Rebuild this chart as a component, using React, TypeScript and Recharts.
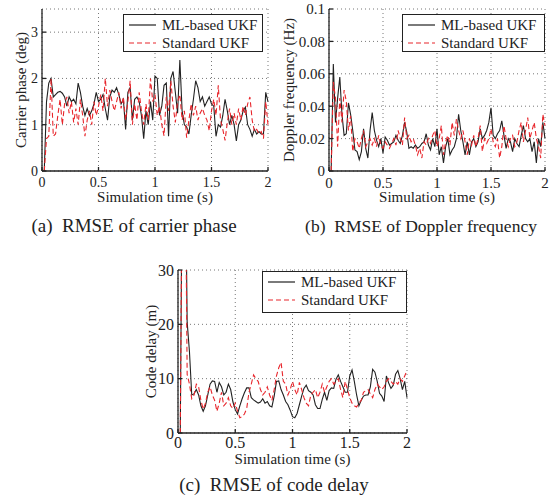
import React from "react";
import { LineChart, Line, XAxis, YAxis, CartesianGrid, Legend, Label } from "recharts";

const FONT = '"Liberation Serif", "Times New Roman", serif';
const INK = "#222";
const RED = "#e8262c";

const seriesNames = ["ML-based UKF", "Standard UKF"];
const xTicks = [0, 0.5, 1, 1.5, 2];

// (a) carrier phase, deg
const phaseTicks = [0, 1, 2, 3];
const phaseML = [
  0, 1.5, 1.9, 2.0, 1.6, 1.65, 1.7, 1.72, 1.68, 1.6,
  1.4, 1.6, 1.5, 1.55, 1.45, 1.9, 1.7, 1.4, 1.2, 1.35,
  1.2, 1.3, 1.45, 1.7, 1.5, 1.55, 1.65, 1.35, 1.1, 1.6,
  1.75, 1.7, 1.8, 1.65, 1.45, 1.55, 0.9, 1.7, 1.8, 1.1,
  1.55, 1.6, 1.5, 1.2, 0.7, 1.3, 1.0, 1.5, 1.1, 2.05,
  2.0, 1.2, 1.4, 1.85, 1.9, 0.75, 2.0, 2.15, 1.7, 1.25,
  2.4, 1.3, 1.0, 0.95, 0.8, 1.2, 1.55, 1.95, 1.8, 1.5,
  1.6, 1.4, 1.5, 1.6, 1.45, 1.4, 0.75, 1.0, 0.95, 1.2,
  1.55, 1.3, 1.0, 1.2, 1.0, 0.65, 1.0, 1.1, 1.3, 1.38,
  1.0, 0.9, 0.75, 0.9, 0.8, 0.85, 0.8, 0.8, 1.7, 1.5,
];
const phaseStd = [
  0, 0.7, 0.75, 2.0, 0.75, 0.8, 1.2, 1.55, 1.0, 1.45,
  1.6, 1.25, 1.5, 1.05, 1.35, 1.0, 1.55, 1.2, 0.75, 1.1,
  1.3, 1.0, 1.5, 1.2, 1.4, 1.65, 1.3, 2.0, 1.4, 1.75,
  1.5, 1.3, 1.5, 1.7, 1.35, 1.6, 1.1, 1.5, 1.95, 1.0,
  1.45, 1.1, 1.7, 1.3, 1.0, 1.45, 1.1, 2.0, 1.5, 1.65,
  1.2, 1.4, 1.0, 0.76, 1.6, 1.3, 1.95, 1.4, 1.05, 1.5,
  1.65, 1.1, 1.3, 0.72, 1.1, 1.45, 1.2, 1.4, 1.1, 1.25,
  1.35, 1.2, 1.1, 0.87, 1.3, 1.55, 1.2, 1.85, 1.1, 0.9,
  0.66, 1.05, 1.35, 1.0, 1.25, 1.0, 1.35, 1.1, 1.4, 1.2,
  1.45, 1.6, 1.1, 0.85, 0.9, 0.8, 0.85, 0.7, 1.5, 1.0,
];

// (b) Doppler frequency, Hz
const dopplerTicks = [0, 0.02, 0.04, 0.06, 0.08, 0.1];
const dopplerML = [
  0, 0.066, 0.03, 0.045, 0.058, 0.035, 0.022, 0.023, 0.042, 0.035,
  0.025, 0.013, 0.012, 0.007, 0.012, 0.026, 0.014, 0.008, 0.025, 0.036,
  0.025, 0.019, 0.015, 0.02, 0.011, 0.021, 0.019, 0.016, 0.017, 0.018,
  0.022, 0.019, 0.017, 0.022, 0.03, 0.024, 0.014, 0.015, 0.014, 0.016,
  0.014, 0.015, 0.017, 0.018, 0.023, 0.016, 0.013, 0.02, 0.015, 0.026,
  0.01, 0.015, 0.005, 0.015, 0.02, 0.01, 0.013, 0.015, 0.02, 0.035,
  0.025, 0.018, 0.01, 0.018, 0.01, 0.018, 0.02, 0.015, 0.018, 0.026,
  0.02, 0.022, 0.025, 0.03, 0.039, 0.022, 0.02, 0.023, 0.025, 0.031,
  0.022, 0.014, 0.02, 0.018, 0.012, 0.02, 0.017, 0.015, 0.022, 0.028,
  0.02, 0.018, 0.02, 0.012, 0.018, 0.005, 0.02, 0.015, 0.03, 0.02,
];
const dopplerStd = [
  0, 0.055, 0.045, 0.015, 0.045, 0.03, 0.05, 0.043, 0.025, 0.034,
  0.012, 0.02, 0.018, 0.014, 0.02, 0.025, 0.015, 0.018, 0.02, 0.016,
  0.02, 0.015, 0.022, 0.016, 0.014, 0.018, 0.016, 0.014, 0.017, 0.02,
  0.016, 0.025, 0.02, 0.016, 0.033, 0.02, 0.022, 0.018, 0.02, 0.016,
  0.01, 0.014, 0.008, 0.018, 0.016, 0.02, 0.017, 0.022, 0.025, 0.015,
  0.02, 0.028, 0.01, 0.018, 0.022, 0.016, 0.03, 0.022, 0.032, 0.025,
  0.02, 0.025, 0.018, 0.01, 0.02, 0.016, 0.022, 0.015, 0.02, 0.028,
  0.012, 0.02, 0.017, 0.02, 0.026, 0.018, 0.015, 0.02, 0.008, 0.015,
  0.028, 0.02, 0.015, 0.02, 0.022, 0.015, 0.018, 0.025, 0.03, 0.018,
  0.025, 0.033, 0.02, 0.025, 0.03, 0.02, 0.015, 0.008, 0.035, 0.028,
];

// (c) code delay, m
const delayTicks = [0, 10, 20, 30];
const delayML = [
  0, 60, 60, 20.4, 15, 7, 7.2, 8, 7, 5,
  4, 5, 7, 9, 9.6, 9.5, 7.5, 9.3, 8.5, 7,
  7.5, 9, 8, 5.7, 4.3, 3.5, 5, 6.3, 7.4, 8.3,
  8.3, 6.5, 6.1, 5.8, 5.5, 5.7, 6.3, 5.5, 5.8, 5,
  4.8, 6.8, 9.5, 9.6, 8, 7, 5.8, 5.2, 4.2, 3,
  2.8, 3.6, 5.2, 6.8, 8.2, 8.8, 7.8, 7.5, 7, 5.2,
  4.5, 4.5, 6.2, 7.5, 6, 7.8, 8.3, 8.2, 9.9, 10.7,
  9.5, 8.5, 7.5, 7.5, 10.5, 11.6, 9.5, 7, 5, 6,
  6.8, 7, 7, 8.5, 11.7, 11.2, 9.5, 7.3, 6.8, 5.8,
  10.5, 9.2, 8.2, 8.8, 10.8, 11.5, 10, 8, 9.5, 6.5,
];
const delayStd = [
  0, 60, 60, 10.8, 9, 6.3, 7, 9, 8.5, 6,
  4.4, 5.5, 7.5, 8.5, 7, 6, 4, 5.5, 7.5, 5,
  5.5, 6.5, 5, 4.5, 5.5, 4, 2.8, 3, 3.5, 4.5,
  7.5, 9, 10.7, 10, 9.5, 8, 7, 7.5, 8.5, 7,
  6, 8, 10.5, 12, 13, 9.5, 9, 7, 8, 9.5,
  8, 7, 9.3, 8, 6.5, 5.5, 5, 7, 7.5, 8,
  6.5, 7.5, 9, 7.5, 8.5, 9.5, 10, 9, 9.5, 10,
  8, 6.5, 9.5, 8, 6.5, 5.5, 5, 4.8, 5.5, 6,
  7.5, 7.8, 8, 7.2, 6.5, 8, 9, 8.5, 8, 8.5,
  9.5, 10, 9.5, 9, 9.5, 9, 10, 9.5, 10.5, 11.5,
];

// samples every 0.02 s
const buildRows = (ml: number[], std: number[]) =>
  ml.map((v, i) => ({ t: (i + 1) * 0.02, ml: v, std: std[i] }));

const LegendBox = ({ w, h }: { w: number; h: number }) => (
  <div
    style={{
      width: w,
      height: h,
      boxSizing: "border-box",
      border: `1.4px solid ${INK}`,
      background: "#fff",
      fontFamily: FONT,
      fontSize: 15,
      color: INK,
      padding: "1px 0 0 4px",
      lineHeight: "17px",
    }}
  >
    {seriesNames.map((name, i) => (
      <div key={name} style={{ display: "flex", alignItems: "center", height: 18 }}>
        <svg width={30} height={10}>
          <line
            x1={1}
            y1={5}
            x2={28}
            y2={5}
            stroke={i === 0 ? INK : RED}
            strokeWidth={1.2}
            strokeDasharray={i === 0 ? undefined : "5 3"}
          />
        </svg>
        <span style={{ marginLeft: 4, whiteSpace: "nowrap" }}>{name}</span>
      </div>
    ))}
  </div>
);

type PanelProps = {
  left: number;
  top: number;
  width: number;
  height: number;
  margin: { top: number; right: number; bottom: number; left: number };
  yWidth: number;
  yDomain: [number, number];
  yTicks: number[];
  yLabel: string;
  yLabelOffset: number;
  xLabelOffset: number;
  tickFont: number;
  xTickMargin: number;
  ml: number[];
  std: number[];
  legend: { left: number; top: number; width: number; height: number };
};

const Panel = (p: PanelProps) => {
  const tickStyle = { fontFamily: FONT, fontSize: p.tickFont, fill: INK };
  return (
    <div style={{ position: "absolute", left: p.left, top: p.top }}>
      <LineChart width={p.width} height={p.height} data={buildRows(p.ml, p.std)} margin={p.margin}>
        <CartesianGrid stroke="#777" strokeDasharray="1 3" />
        <XAxis
          dataKey="t"
          type="number"
          domain={[0, 2]}
          ticks={xTicks}
          interval={0}
          height={31}
          stroke={INK}
          strokeWidth={1.3}
          tickSize={-4}
          tickMargin={p.xTickMargin}
          tick={tickStyle}
        >
          <Label
            value="Simulation time (s)"
            position="insideBottom"
            offset={p.xLabelOffset}
            style={{ fontFamily: FONT, fontSize: 15, fill: INK }}
          />
        </XAxis>
        <XAxis
          xAxisId="top"
          orientation="top"
          dataKey="t"
          type="number"
          domain={[0, 2]}
          ticks={xTicks}
          interval={0}
          height={0}
          stroke={INK}
          strokeWidth={1.3}
          tickSize={-4}
          tickFormatter={() => ""}
        />
        <YAxis
          type="number"
          domain={p.yDomain}
          ticks={p.yTicks}
          interval={0}
          allowDataOverflow
          width={p.yWidth}
          stroke={INK}
          strokeWidth={1.3}
          tickSize={-4}
          tickMargin={8}
          tick={tickStyle}
        >
          <Label
            value={p.yLabel}
            angle={-90}
            position="insideLeft"
            offset={p.yLabelOffset}
            style={{ fontFamily: FONT, fontSize: 15, fill: INK, textAnchor: "middle" }}
          />
        </YAxis>
        <YAxis
          yAxisId="right"
          orientation="right"
          type="number"
          domain={p.yDomain}
          ticks={p.yTicks}
          interval={0}
          allowDataOverflow
          width={0}
          stroke={INK}
          strokeWidth={1.3}
          tickSize={-4}
          tickFormatter={() => ""}
        />
        <Legend
          layout="horizontal"
          verticalAlign="middle"
          align="center"
          wrapperStyle={{ left: p.legend.left, top: p.legend.top, width: p.legend.width, height: p.legend.height }}
          content={() => <LegendBox w={p.legend.width} h={p.legend.height} />}
        />
        <Line
          dataKey="ml"
          name={seriesNames[0]}
          stroke={INK}
          strokeWidth={1.1}
          dot={false}
          isAnimationActive={false}
        />
        <Line
          dataKey="std"
          name={seriesNames[1]}
          stroke={RED}
          strokeWidth={1.1}
          strokeDasharray="5 3"
          dot={false}
          isAnimationActive={false}
        />
      </LineChart>
    </div>
  );
};

const Caption = ({ x, y, text, size }: { x: number; y: number; text: string; size: number }) => (
  <div
    style={{
      position: "absolute",
      left: x - 150,
      top: y - 12,
      width: 300,
      textAlign: "center",
      fontFamily: FONT,
      fontSize: size,
      color: INK,
      whiteSpace: "pre",
      lineHeight: "24px",
    }}
  >
    {text}
  </div>
);

export default function App() {
  return (
    <div style={{ position: "absolute", left: 0, top: 0, width: 556, height: 498, background: "#fff" }}>
      <Panel
        left={0}
        top={0}
        width={280}
        height={240}
        margin={{ top: 9, right: 12, bottom: 38, left: 0 }}
        yWidth={42}
        yDomain={[0, 3.5]}
        yTicks={phaseTicks}
        yLabel="Carrier phase (deg)"
        yLabelOffset={21}
        xLabelOffset={0}
        tickFont={14}
        xTickMargin={10}
        ml={phaseML}
        std={phaseStd}
        legend={{ left: 123, top: 14, width: 140, height: 38 }}
      />
      <Panel
        left={276}
        top={0}
        width={280}
        height={240}
        margin={{ top: 9, right: 11, bottom: 38, left: 0 }}
        yWidth={53}
        yDomain={[0, 0.1]}
        yTicks={dopplerTicks}
        yLabel="Doppler frequency (Hz)"
        yLabelOffset={13}
        xLabelOffset={0}
        tickFont={15}
        xTickMargin={10}
        ml={dopplerML}
        std={dopplerStd}
        legend={{ left: 126, top: 14, width: 143, height: 38 }}
      />
      <Panel
        left={130}
        top={255}
        width={290}
        height={243}
        margin={{ top: 15, right: 13, bottom: 34, left: 0 }}
        yWidth={48}
        yDomain={[0, 30]}
        yTicks={delayTicks}
        yLabel="Code delay (m)"
        yLabelOffset={21}
        xLabelOffset={0}
        tickFont={16}
        xTickMargin={8}
        ml={delayML}
        std={delayStd}
        legend={{ left: 132, top: 16, width: 145, height: 42 }}
      />
      <Caption x={134} y={226} size={19} text="(a)  RMSE of carrier phase" />
      <Caption x={421} y={226} size={17.5} text="(b)  RMSE of Doppler frequency" />
      <Caption x={274} y={485} size={19} text="(c)  RMSE of code delay" />
    </div>
  );
}
